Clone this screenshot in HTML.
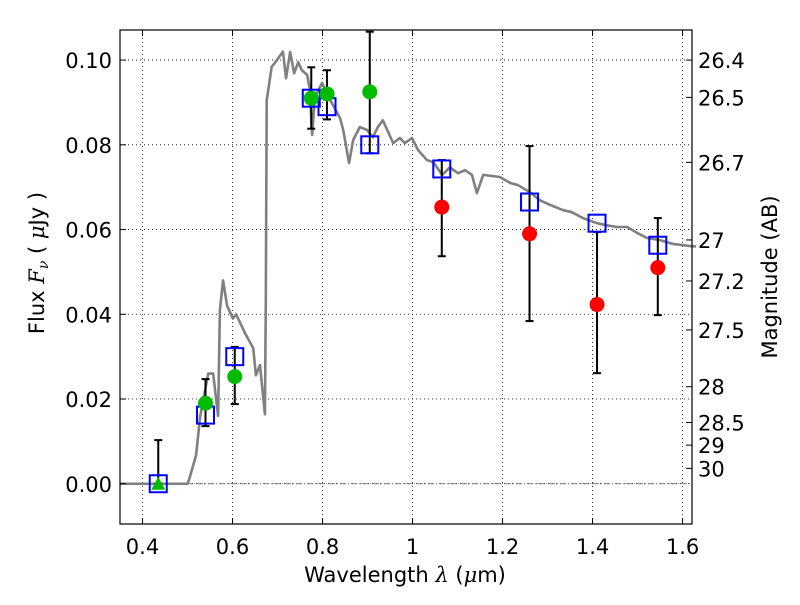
<!DOCTYPE html>
<html><head><meta charset="utf-8"><style>
body{margin:0;background:#fff}
svg text{font-family:"DejaVu Sans","Liberation Sans",sans-serif;fill:#000}
</style></head><body>
<svg id="c" width="800" height="600" xmlns="http://www.w3.org/2000/svg"></svg>
<script>
const xTicks=[0.4,0.6,0.8,1.0,1.2,1.4,1.6];
const xTickLabels=["0.4","0.6","0.8","1","1.2","1.4","1.6"];
const yTicks=[0,0.02,0.04,0.06,0.08,0.10];
const yTickLabels=["0.00","0.02","0.04","0.06","0.08","0.10"];
const magTicks=[26.4,26.5,26.7,27,27.2,27.5,28,28.5,29,30];
const magLabels=["26.4","26.5","26.7","27","27.2","27.5","28","28.5","29","30"];
const specX=[0.35,0.50,0.505,0.519,0.528,0.546,0.557,0.568,0.572,0.579,0.588,0.601,0.608,0.628,0.646,0.652,0.661,0.672,0.674,0.676,0.687,0.694,0.712,0.719,0.728,0.737,0.746,0.754,0.766,0.772,0.777,0.783,0.799,0.817,0.839,0.846,0.859,0.868,0.883,0.899,0.912,0.923,0.934,0.957,0.972,0.983,0.999,1.012,1.032,1.046,1.066,1.083,1.101,1.117,1.132,1.143,1.157,1.194,1.217,1.234,1.261,1.283,1.306,1.334,1.354,1.379,1.410,1.432,1.454,1.477,1.499,1.521,1.550,1.579,1.617,1.63];
const specY=[0,0,0.0015,0.0067,0.0158,0.026,0.026,0.016,0.041,0.048,0.042,0.039,0.040,0.0355,0.032,0.0256,0.028,0.0164,0.043,0.0905,0.0984,0.0993,0.102,0.0957,0.1019,0.0969,0.0995,0.0976,0.0965,0.0929,0.0823,0.0913,0.0946,0.0906,0.0863,0.0835,0.0757,0.0811,0.0842,0.0835,0.0818,0.0842,0.0858,0.0804,0.0816,0.0804,0.0816,0.0788,0.0764,0.0759,0.0729,0.0747,0.0733,0.0740,0.0729,0.0686,0.0729,0.0724,0.0710,0.0705,0.0688,0.0669,0.0658,0.0646,0.0641,0.0627,0.0615,0.0610,0.0606,0.0606,0.0592,0.0580,0.0575,0.0566,0.0561,0.0560];
const modelX=[0.435,0.54,0.605,0.775,0.81,0.905,1.065,1.26,1.41,1.545];
const modelY=[0.0,0.0162,0.0300,0.0910,0.0890,0.0800,0.0743,0.0665,0.0615,0.0563];
const obsX=[0.435,0.54,0.605,0.775,0.81,0.905,1.065,1.26,1.41,1.545];
const obsY=[0.0,0.019,0.0253,0.091,0.092,0.0925,0.0653,0.059,0.0423,0.051];
const errLo=[0.0,0.0136,0.0188,0.0838,0.086,0.078,0.0537,0.0384,0.0261,0.0398];
const errHi=[0.0103,0.0247,0.0323,0.0983,0.0976,0.1067,0.0764,0.0797,0.0594,0.0627];
const obsKind=["tri","g","g","g","g","g","r","r","r","r"];

const L=120,R=692,T=30,B=524;
const X0=0.35,X1=1.621,Y0=-0.0095,Y1=0.1071;
const sx=v=>L+(v-X0)/(X1-X0)*(R-L);
const sy=v=>B-(v-Y0)/(Y1-Y0)*(B-T);
const svg=document.getElementById('c');
const NS='http://www.w3.org/2000/svg';
function mk(tag,attrs,parent){const e=document.createElementNS(NS,tag);for(const k in attrs)e.setAttribute(k,attrs[k]);(parent||svg).appendChild(e);return e;}
function txt(s,x,y,anchor,size,parent){const t=mk('text',{x:x,y:y,'text-anchor':anchor,'font-size':size},parent);t.textContent=s;return t;}

const grid=mk('g',{});


xTicks.forEach(v=>{mk('line',{x1:sx(v),x2:sx(v),y1:T,y2:B,stroke:'#000','stroke-width':0.8,'stroke-dasharray':'1,3'},grid);});
yTicks.forEach(v=>{mk('line',{x1:L,x2:R,y1:sy(v),y2:sy(v),stroke:'#000','stroke-width':0.8,'stroke-dasharray':'1,3'},grid);});
const zl=mk('line',{x1:L,x2:R,y1:sy(0),y2:sy(0),stroke:'#555','stroke-width':0.8,'stroke-dasharray':'6,2,1,2'});



const sp=mk('polyline',{points:specX.map((x,i)=>sx(x)+','+sy(specY[i])).join(' '),fill:'none',stroke:'#808080','stroke-width':2.6,'stroke-linejoin':'round'});



obsX.forEach((x,i)=>{
  const g=mk('g',{});
  
  
  const px=sx(x);
  mk('line',{x1:px,x2:px,y1:sy(errLo[i]),y2:sy(errHi[i]),stroke:'#000','stroke-width':2},g);
  mk('line',{x1:px-4,x2:px+4,y1:sy(errLo[i]),y2:sy(errLo[i]),stroke:'#000','stroke-width':2},g);
  mk('line',{x1:px-4,x2:px+4,y1:sy(errHi[i]),y2:sy(errHi[i]),stroke:'#000','stroke-width':2},g);
});
modelX.forEach((x,i)=>{
  const r=mk('rect',{x:sx(x)-8.5,y:sy(modelY[i])-8.5,width:17,height:17,fill:'none',stroke:'#0000ff','stroke-width':2});
  
  
});
obsX.forEach((x,i)=>{
  const px=sx(x),py=sy(obsY[i]);let m;
  if(obsKind[i]==='tri'){m=mk('polygon',{points:`${px},${py-7} ${px-7},${py+6} ${px+7},${py+6}`,fill:'#00bb00'});}
  else m=mk('circle',{cx:px,cy:py,r:7.5,fill:obsKind[i]==='g'?'#00bb00':'#ff0000'});
  
  
});

const ax=mk('rect',{x:L,y:T,width:R-L,height:B-T,fill:'none',stroke:'#000','stroke-width':1.2});



const xa=mk('g',{});


xTicks.forEach((v,i)=>{mk('line',{x1:sx(v),x2:sx(v),y1:B,y2:B-6,stroke:'#000'},xa);mk('line',{x1:sx(v),x2:sx(v),y1:T,y2:T+6,stroke:'#000'},xa);txt(xTickLabels[i],sx(v),B+30,'middle',21,xa);});
const ya=mk('g',{});


yTicks.forEach((v,i)=>{mk('line',{x1:L,x2:L+6,y1:sy(v),y2:sy(v),stroke:'#000'},ya);txt(yTickLabels[i],L-8,sy(v)+8,'end',21,ya);});
const ma=mk('g',{});


magTicks.forEach((m,i)=>{const f=Math.pow(10,(23.9-m)/2.5);const py=sy(f);mk('line',{x1:R,x2:R-6,y1:py,y2:py,stroke:'#000'},ma);txt(magLabels[i],R+6,py+8,'start',21,ma);});

const xl=txt('',405,582,'middle',21);
xl.innerHTML='Wavelength  <tspan font-style="italic" font-family="DejaVu Serif,serif">λ</tspan> (<tspan font-style="italic" font-family="DejaVu Serif,serif">μ</tspan>m)';


const yl=txt('',0,0,'middle',21);
yl.setAttribute('transform','translate(44,263) rotate(-90)');
yl.innerHTML='Flux  <tspan font-style="italic" font-family="DejaVu Serif,serif">F</tspan><tspan font-style="italic" font-size="14" dy="4" font-family="DejaVu Serif,serif">ν</tspan><tspan dy="-4">  (  </tspan><tspan font-style="italic" font-family="DejaVu Serif,serif">μ</tspan>Jy )';


const rl=txt('Magnitude (AB)',0,0,'middle',21);
rl.setAttribute('transform','translate(777,277) rotate(-90)');


</script>
</body></html>
